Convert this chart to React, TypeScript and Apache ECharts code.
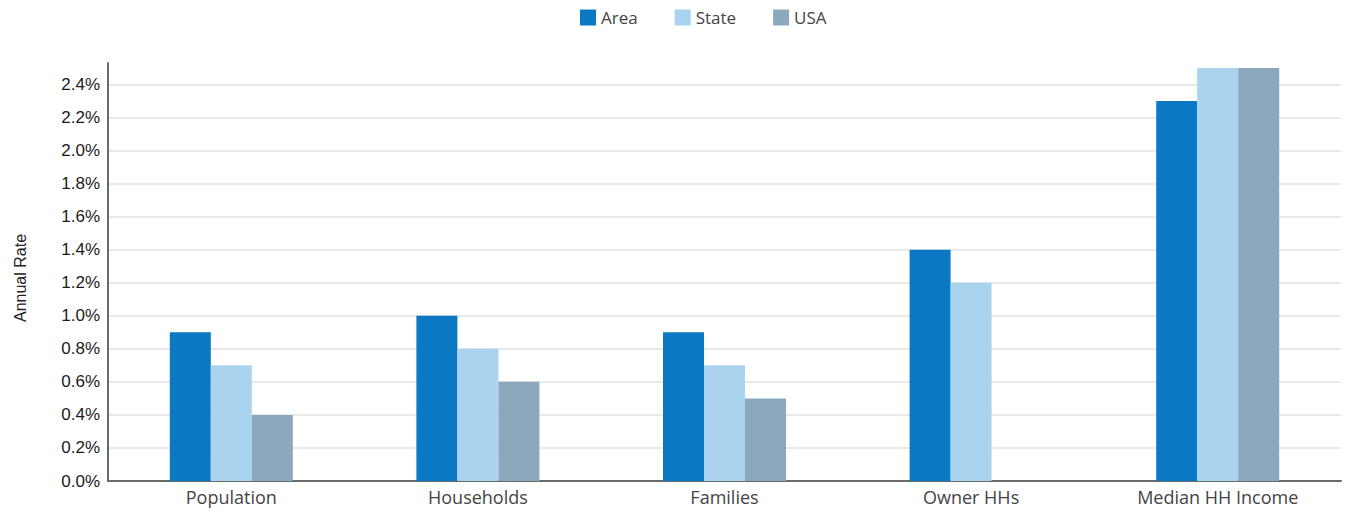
import React, { useEffect, useRef } from "react";
import * as echarts from "echarts";

const categories = ["Population", "Households", "Families", "Owner HHs", "Median HH Income"];
const areaValues = [0.9, 1.0, 0.9, 1.4, 2.3];
const stateValues = [0.7, 0.8, 0.7, 1.2, 2.5];
const usaValues = [0.4, 0.6, 0.5, 0, 2.5];
const seriesNames = ["Area", "State", "USA"];
const seriesColors = ["#0a78c3", "#a9d3ef", "#8ba8bd"];

export default function App() {
  const ref = useRef<HTMLDivElement>(null);
  useEffect(() => {
    if (!ref.current) return;
    const chart = echarts.init(ref.current, null, { renderer: "svg" });
    const data = [areaValues, stateValues, usaValues];
    chart.setOption({
      animation: false,
      legend: {
        top: 4,
        left: 575,
        itemWidth: 16,
        itemHeight: 16,
        itemGap: 37,
        icon: "rect",
        textStyle: { fontFamily: "Open Sans", fontSize: 17, color: "#444" },
        data: seriesNames,
      },
      grid: { left: 108, right: 7, top: 63, bottom: 31, containLabel: false },
      xAxis: {
        type: "category",
        data: categories,
        axisLine: { lineStyle: { color: "#6a6a6a", width: 2 } },
        axisTick: { show: false },
        axisLabel: { fontFamily: "Open Sans", fontSize: 18, color: "#444", margin: 7 },
      },
      yAxis: {
        type: "value",
        min: 0,
        max: 2.53,
        interval: 0.2,
        name: "Annual Rate",
        nameLocation: "middle",
        nameGap: 80,
        nameTextStyle: { fontFamily: "Liberation Sans", fontSize: 16, color: "#222", padding: [0, 12, 0, 0] },
        axisLine: { show: true, lineStyle: { color: "#6a6a6a", width: 2 } },
        axisTick: { show: false },
        axisLabel: {
          showMaxLabel: false,
          fontFamily: "Liberation Sans",
          fontSize: 17,
          color: "#1a1a1a",
          margin: 8,
          formatter: (v: number) => v.toFixed(1) + "%",
        },
        splitLine: { show: true, showMaxLine: false, lineStyle: { color: "#e2e2e2", width: 1.5 } },
      },
      series: seriesNames.map((name, i) => ({
        name,
        type: "bar",
        data: data[i],
        barWidth: 41,
        barGap: "0%",
        itemStyle: { color: seriesColors[i] },
      })),
    });
    return () => chart.dispose();
  }, []);
  return (
    <div
      ref={ref}
      style={{ position: "absolute", left: 0, top: 0, width: 1348, height: 512, background: "#fff" }}
    />
  );
}
